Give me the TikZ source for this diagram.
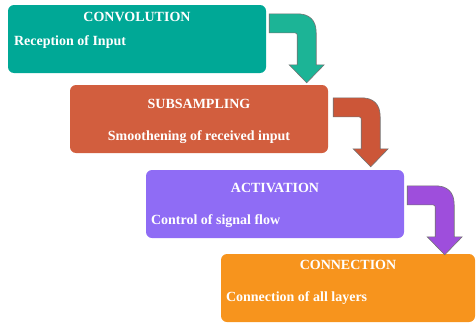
\documentclass[tikz,border=0pt]{standalone}
\usepackage{fontspec}
\setmainfont{Liberation Serif}
\usetikzlibrary{calc}

\definecolor{convfill}{RGB}{0,168,150}
\definecolor{convarrow}{RGB}{28,180,150}
\definecolor{subfill}{RGB}{210,94,62}
\definecolor{subarrow}{RGB}{204,86,56}
\definecolor{actfill}{RGB}{143,108,245}
\definecolor{actarrow}{RGB}{158,78,220}
\definecolor{confill}{RGB}{247,148,29}

\tikzset{
  stage/.style={rounded corners=6pt, minimum height=68pt, inner sep=0pt},
  stagetitle/.style={text=white, font=\fontsize{14}{16}\selectfont\bfseries, inner sep=0pt},
  stagetext/.style={text=white, font=\fontsize{14}{16}\selectfont\bfseries, inner sep=0pt},
  % bent block arrow, origin at the top-left of its horizontal shaft
  bentarrow/.pic={
    \path[pic actions] (0,0) -- (28,0)
      .. controls (40,0) and (47,6) .. (47,19)
      -- (47,51) -- (55,51) -- (37.5,69) -- (20,51) -- (28,51) -- (28,22)
      .. controls (28,20) .. (26,19) -- (0,19) -- cycle;
  },
  flowarrow/.style={draw=black!55, line width=0.6pt, line join=miter}
}

\begin{document}
\begin{tikzpicture}[x=1pt, y=-1pt]
  \useasboundingbox (0,0) rectangle (476,324);

  % stage boxes
  \node[stage, fill=convfill, minimum width=258pt] (conv) at (137,39) {};
  \node[stage, fill=subfill,  minimum width=258pt] (subs) at (199,119) {};
  \node[stage, fill=actfill,  minimum width=258pt] (act)  at (275,204) {};
  \node[stage, fill=confill,  minimum width=254pt] (conn) at (348,288) {};

  % stage titles and descriptions
  \node[stagetitle, anchor=base] (convT) at ($(conv.north)+(0,17)$) {CONVOLUTION};
  \node[stagetext, anchor=base west] (convD) at ($(conv.north west)+(6,41)$) {Reception of Input};

  \node[stagetitle, anchor=base] (subsT) at ($(subs.north)+(0,24)$) {SUBSAMPLING};
  \node[stagetext, anchor=base] (subsD) at ($(subs.north)+(0,56)$) {Smoothening of received input};

  \node[stagetitle, anchor=base] (actT) at ($(act.north)+(0,23)$) {ACTIVATION};
  \node[stagetext, anchor=base west] (actD) at ($(act.north west)+(5,55)$) {Control of signal flow};

  \node[stagetitle, anchor=base] (connT) at ($(conn.north)+(0,16)$) {CONNECTION};
  \node[stagetext, anchor=base west] (connD) at ($(conn.north west)+(5,48)$) {Connection of all layers};

  % bent arrows leading from one stage to the next
  \pic[flowarrow, fill=convarrow] at ($(conv.north east)+(3,9)$) {bentarrow};
  \pic[flowarrow, fill=subarrow]  at ($(subs.north east)+(5,13)$) {bentarrow};
  \pic[flowarrow, fill=actarrow]  at ($(act.north east)+(3,16)$) {bentarrow};
\end{tikzpicture}
\end{document}
